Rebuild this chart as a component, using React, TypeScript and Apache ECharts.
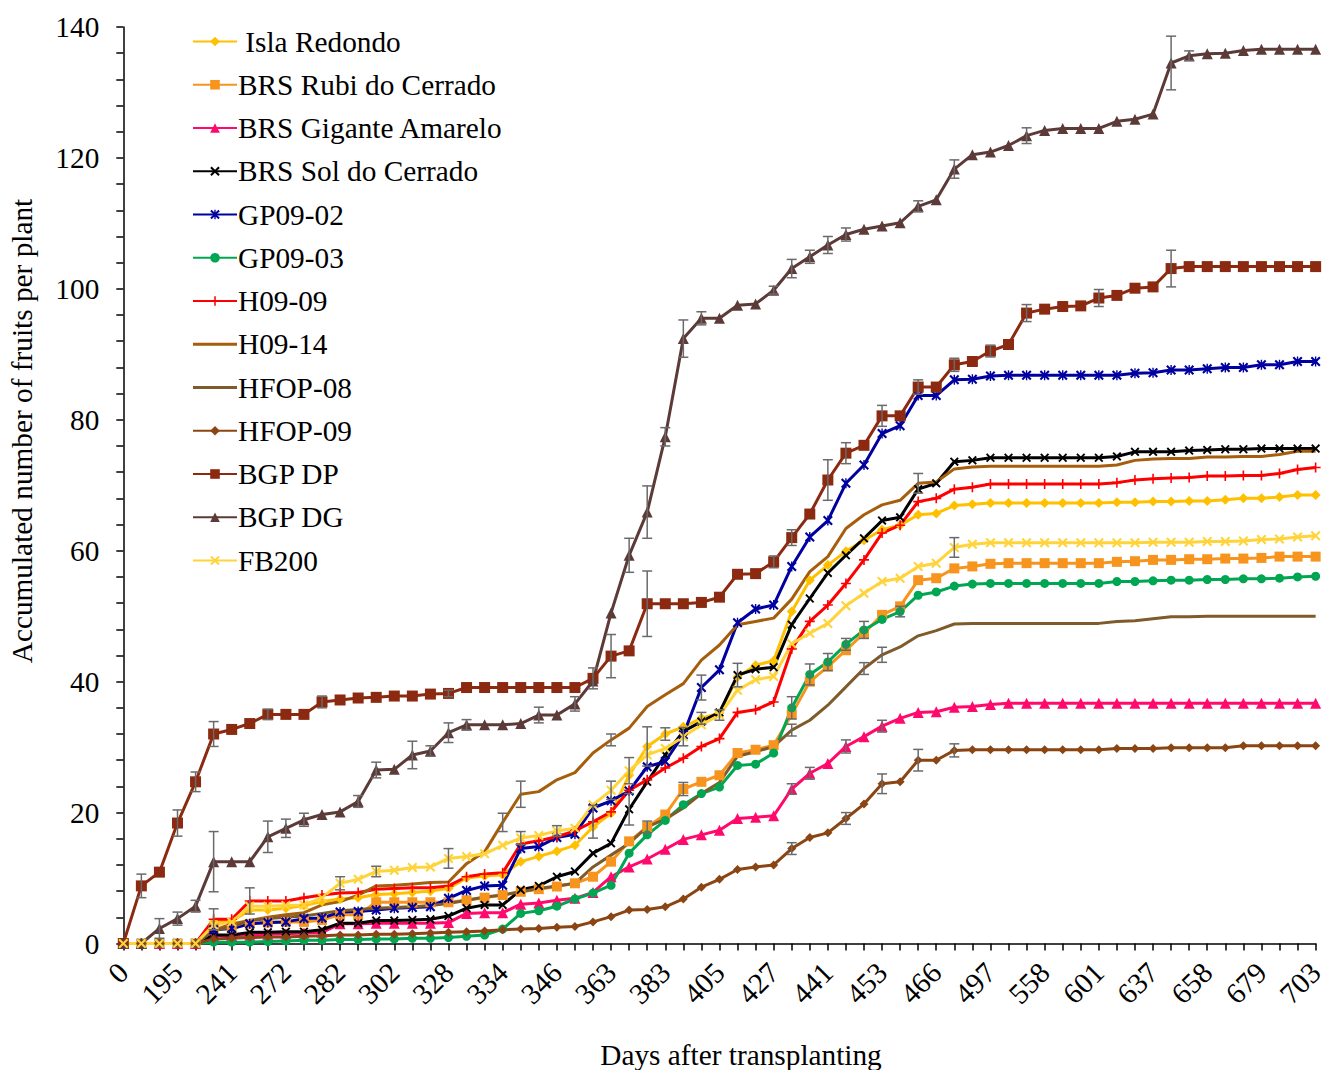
import React, { useEffect, useRef } from 'react';
import * as echarts from 'echarts';

const FONT = "'Liberation Serif', 'Times New Roman', Times, serif";
const FS = 29.3;

const days = ['0','160','181','195','205','220','241','251','262','272','275','279','282','290','297','302','312','320','328','330','332','334','338','342','346','352','358','363','369','376','383','390','398','405','412','420','427','432','437','441','445','449','453','457','462','466','476','487','497','515','537','558','572','587','601','613','625','637','644','651','658','665','672','679','687','695','703'];

const isla = [0,0,0,0,0,3.3,3.4,5.1,5.1,5.4,5.8,6.4,6.8,7.0,7.5,7.6,7.8,8.0,8.4,10.0,10.3,10.5,12.5,13.3,14.1,15.0,17.8,19.9,25.7,30.1,32.0,33.1,34.4,35.2,40.7,42.5,43.2,50.7,55.5,57.8,59.9,61.6,63.2,63.9,65.5,65.7,66.9,67.1,67.3,67.3,67.3,67.3,67.3,67.3,67.3,67.4,67.4,67.5,67.5,67.6,67.6,67.8,68.0,68.0,68.2,68.5,68.5];
const rubi = [0,0,0,0,0,2.3,2.3,3.0,3.2,3.3,3.3,3.6,4.4,4.4,6.3,6.3,6.3,6.3,6.3,6.6,7.0,7.4,7.9,8.3,8.7,9.2,10.2,12.5,15.6,17.8,19.7,23.6,24.7,25.7,29.1,29.6,30.3,35.0,40.0,42.3,44.8,47.4,50.2,51.5,55.5,55.8,57.3,57.6,58.0,58.1,58.1,58.1,58.1,58.1,58.1,58.3,58.4,58.6,58.6,58.7,58.7,58.8,58.8,58.9,59.1,59.1,59.1];
const gigante = [0,0,0,0,0,1.2,1.2,1.3,1.4,1.5,1.6,1.7,3.0,3.0,3.1,3.1,3.1,3.1,3.2,4.6,4.7,4.7,6.0,6.2,6.6,6.9,7.8,10.2,11.7,12.9,14.4,15.9,16.6,17.3,19.1,19.3,19.5,23.6,26.0,27.5,30.1,31.6,33.2,34.4,35.3,35.4,36.1,36.2,36.5,36.7,36.7,36.7,36.7,36.7,36.7,36.7,36.7,36.7,36.7,36.7,36.7,36.7,36.7,36.7,36.7,36.7,36.7];
const sol = [0,0,0,0,0,1.3,1.3,1.7,1.7,1.8,1.8,2.1,3.1,3.1,3.5,3.5,3.6,3.7,4.2,5.4,5.9,5.9,8.2,8.8,10.2,11.0,13.8,15.3,20.5,24.7,28.8,32.4,33.9,35.3,41.0,41.9,42.2,48.7,52.7,56.6,59.3,61.9,64.6,65.1,69.4,70.3,73.6,73.8,74.2,74.2,74.2,74.2,74.2,74.2,74.2,74.4,75.1,75.1,75.1,75.3,75.4,75.5,75.5,75.6,75.6,75.6,75.6];
const gp0902 = [0,0,0,0,0,2.1,2.3,3.0,3.2,3.3,3.8,3.9,4.8,4.9,5.1,5.4,5.5,5.6,6.9,8.1,8.8,8.9,14.5,14.8,16.2,16.7,20.7,21.8,23.3,27.0,27.8,31.9,39.1,41.8,49.0,51.1,51.7,57.6,62.1,64.6,70.3,73.1,77.9,79.1,83.7,83.7,86.1,86.2,86.7,86.8,86.8,86.8,86.8,86.8,86.8,86.8,87.1,87.2,87.6,87.6,87.8,88.0,88.0,88.4,88.4,88.9,88.9];
const gp0903 = [0,0,0,0,0,0.2,0.2,0.2,0.3,0.4,0.5,0.5,0.6,0.6,0.7,0.7,0.8,0.8,0.9,1.1,1.3,2.2,4.6,5.0,5.7,6.8,7.7,8.9,13.8,16.6,18.8,21.2,22.9,23.9,27.2,27.4,29.1,36.0,41.1,43.0,45.7,47.9,49.5,50.7,53.2,53.7,54.6,54.9,55.0,55.0,55.0,55.0,55.0,55.0,55.0,55.3,55.3,55.4,55.5,55.5,55.6,55.6,55.7,55.7,55.8,56.0,56.1];
const h0909 = [0,0,0,0,0,3.7,3.7,6.5,6.5,6.5,7.0,7.4,7.7,7.8,8.3,8.4,8.5,8.5,8.8,10.2,10.6,10.8,15.2,15.7,16.3,17.2,18.6,20.1,23.4,25.0,26.8,28.3,30.1,31.3,35.3,35.7,36.9,45.0,49.2,51.7,55.0,58.6,62.7,63.9,67.5,68.0,69.4,69.7,70.2,70.2,70.2,70.2,70.2,70.2,70.2,70.4,70.8,71.0,71.1,71.2,71.4,71.4,71.5,71.5,71.8,72.4,72.7];
const h0914 = [0,0,0,0,0,2.0,3.0,3.5,4.0,4.4,4.7,5.9,6.4,7.4,8.8,8.9,9.1,9.3,9.4,12.2,14.0,18.5,22.8,23.2,25.0,26.1,29.1,31.1,32.9,36.2,38.0,39.7,43.3,45.6,48.7,49.2,49.7,52.6,56.8,59.1,63.4,65.5,67.0,67.7,70.3,70.5,72.5,72.8,72.9,72.9,72.9,72.9,72.9,72.9,72.9,73.1,73.8,74.0,74.1,74.1,74.3,74.3,74.4,74.4,74.7,75.2,75.2];
const hfop08 = [0,0,0,0,0,2.0,2.5,3.5,3.8,4.0,4.2,4.6,5.0,5.2,5.4,5.5,5.6,5.8,6.1,6.6,7.1,7.4,7.9,8.4,8.8,9.2,11.7,13.5,15.3,17.8,19.0,20.7,22.9,24.6,28.6,29.3,30.1,32.6,34.1,36.4,39.2,42.0,44.1,45.3,47.0,47.8,48.8,48.9,48.9,48.9,48.9,48.9,48.9,48.9,48.9,49.2,49.3,49.6,49.9,49.9,50.0,50.0,50.0,50.0,50.0,50.0,50.0];
const hfop09 = [0,0,0,0,0,0.7,0.8,0.9,1.0,1.0,1.1,1.2,1.3,1.3,1.4,1.4,1.5,1.6,1.7,1.8,1.9,2.1,2.2,2.3,2.5,2.6,3.3,4.1,5.1,5.2,5.6,6.8,8.6,9.8,11.3,11.7,12.0,14.5,16.2,16.9,19.1,21.3,24.4,24.7,28.0,28.0,29.5,29.6,29.6,29.6,29.6,29.6,29.6,29.6,29.6,29.8,29.8,29.8,29.9,29.9,29.9,29.9,30.2,30.2,30.2,30.2,30.2];
const bgpdp = [0,8.8,10.9,18.4,24.7,32.0,32.7,33.6,35.0,35.0,35.0,36.9,37.2,37.5,37.6,37.8,37.8,38.1,38.2,39.1,39.1,39.1,39.1,39.1,39.1,39.1,40.5,43.9,44.7,51.9,51.9,51.9,52.1,52.9,56.4,56.5,58.3,62.0,65.6,70.8,74.9,76.1,80.6,80.6,85.0,85.0,88.4,88.9,90.5,91.5,96.3,96.9,97.3,97.4,98.6,99.0,100.1,100.3,103.1,103.4,103.4,103.4,103.4,103.4,103.4,103.4,103.4];
const bgpdg = [0,0,2.3,3.8,5.7,12.5,12.5,12.5,16.3,17.6,18.9,19.7,20.1,21.7,26.5,26.6,28.8,29.4,32.2,33.4,33.4,33.4,33.6,34.9,34.9,36.6,40.1,50.5,59.3,65.9,77.4,92.4,95.5,95.5,97.5,97.7,99.8,103.1,104.9,106.7,108.3,109.1,109.6,110.1,112.6,113.6,118.3,120.5,120.9,121.9,123.4,124.2,124.5,124.5,124.5,125.6,125.9,126.7,134.5,135.6,135.9,136.0,136.4,136.6,136.6,136.6,136.6];
const fb200 = [0,0,0,0,0,2.8,3.3,5.7,5.7,5.8,5.9,7.0,9.2,9.8,11.0,11.2,11.6,11.7,13.0,13.3,13.7,15.0,16.1,16.5,17.2,17.6,21.2,23.4,26.4,28.8,29.8,31.6,33.4,34.9,38.7,40.3,40.8,45.8,47.4,48.9,51.6,53.5,55.3,55.8,57.6,58.1,60.5,61.0,61.2,61.2,61.2,61.2,61.2,61.2,61.2,61.2,61.2,61.3,61.3,61.3,61.4,61.4,61.5,61.7,61.8,62.1,62.3];

const names = ['Isla Redondo','BRS Rubi do Cerrado','BRS Gigante Amarelo','BRS Sol do Cerrado','GP09-02','GP09-03','H09-09','H09-14','HFOP-08','HFOP-09','BGP DP','BGP DG','FB200'];
const values = [isla, rubi, gigante, sol, gp0902, gp0903, h0909, h0914, hfop08, hfop09, bgpdp, bgpdg, fb200];

// error bars: [series index, category index, half-length]
const errBars = [
  [10,1,1.8],[10,3,2.0],[10,4,1.5],[10,5,1.9],[10,8,0.8],[10,11,0.9],[10,18,0.5],[10,26,1.6],[10,27,3.3],[10,29,5.0],[10,36,0.9],[10,37,1.2],[10,39,3.1],[10,40,1.6],[10,42,1.6],[10,44,1.1],[10,46,1.0],[10,48,0.9],[10,50,1.3],[10,54,1.3],[10,58,2.8],
  [11,2,1.5],[11,3,1.0],[11,4,0.9],[11,5,4.6],[11,8,2.4],[11,9,1.4],[11,10,1.0],[11,13,0.9],[11,14,1.2],[11,16,2.1],[11,17,0.8],[11,18,1.5],[11,19,0.8],[11,23,1.2],[11,25,1.1],[11,28,2.6],[11,29,4.0],[11,30,1.4],[11,31,2.85],[11,32,1.0],[11,36,0.6],[11,37,1.4],[11,38,1.0],[11,39,1.3],[11,40,1.0],[11,44,0.85],[11,46,1.4],[11,50,1.2],[11,58,4.1],[11,59,0.75],
  [6,5,1.6],[6,7,2.0],[12,12,1.0],[12,14,0.8],[12,18,1.5],
  [7,21,1.4],[7,22,2.0],[12,22,1.0],[12,24,0.8],[6,26,2.5],[12,27,1.4],[7,27,0.9],
  [12,28,2.0],[3,28,2.4],[0,29,3.0],[1,29,0.9],[0,30,0.95],[12,31,1.4],[1,31,1.0],[4,32,1.9],[0,32,0.9],[12,33,0.8],[3,34,1.8],
  [5,37,1.7],[8,37,0.9],[9,37,0.9],[2,37,0.8],[5,38,1.6],[2,38,0.9],[5,39,1.3],[5,40,0.9],[2,40,1.0],[9,40,0.9],[5,41,1.3],[8,41,0.9],[8,42,1.15],[2,42,0.9],[9,42,1.5],[5,43,0.8],[9,44,1.65],[9,46,1.0],[7,44,1.5],[12,46,1.5],
];

const X_PATH = 'path://M0,1.5L1.5,0L5,3.5L8.5,0L10,1.5L6.5,5L10,8.5L8.5,10L5,6.5L1.5,10L0,8.5L3.5,5Z';
const PLUS_PATH = 'path://M4.2,0H5.8V4.2H10V5.8H5.8V10H4.2V5.8H0V4.2H4.2Z';
const AST_PATH = 'path://M0,1.5L1.5,0L5,3.5L8.5,0L10,1.5L6.5,5L10,8.5L8.5,10L5,6.5L1.5,10L0,8.5L3.5,5Z M4.3,0H5.7V10H4.3Z';
const LINE_ICON = 'path://M0,0H0.05V0.05H0Z M0,4.5H44V7.5H0Z M43.95,11.95H44V12H43.95Z';

const styles = [
  { color: '#FFC000', symbol: 'diamond', size: 10 },
  { color: '#F7941D', symbol: 'rect', size: 10 },
  { color: '#FF0A6C', symbol: 'triangle', size: 11 },
  { color: '#000000', symbol: X_PATH, size: 9 },
  { color: '#0000A0', symbol: AST_PATH, size: 10 },
  { color: '#00A651', symbol: 'circle', size: 9 },
  { color: '#FF0000', symbol: PLUS_PATH, size: 10 },
  { color: '#A65E0C', symbol: 'none', size: 0 },
  { color: '#7F5A2A', symbol: 'none', size: 0 },
  { color: '#8B4513', symbol: 'diamond', size: 9 },
  { color: '#8B2A10', symbol: 'rect', size: 11 },
  { color: '#5C3A38', symbol: 'triangle', size: 11 },
  { color: '#FFD43B', symbol: X_PATH, size: 10 },
];

export default function App() {
  const ref = useRef<HTMLDivElement>(null);
  useEffect(() => {
    if (!ref.current) return;
    const chart = echarts.init(ref.current, null, { renderer: 'svg' });
    const lineSeries = names.map((n, k) => ({
      type: 'line',
      name: n,
      data: values[k],
      symbol: styles[k].symbol,
      symbolSize: styles[k].size,
      showSymbol: styles[k].symbol !== 'none',
      lineStyle: { color: styles[k].color, width: 3 },
      itemStyle: { color: styles[k].color },
      z: 2,
    }));
    const errSeries = {
      type: 'custom',
      name: 'errors',
      z: 3,
      silent: true,
      data: errBars.map(([s, i, e]) => [i, values[s][i], e]),
      encode: { x: 0, y: 1 },
      renderItem: (params: any, api: any) => {
        const i = api.value(0);
        const v = api.value(1);
        const e = api.value(2);
        const top = api.coord([i, v + e]);
        const bot = api.coord([i, Math.max(0, v - e)]);
        const hw = 5;
        const st = { stroke: '#6A6A6A', lineWidth: 1.5 };
        return {
          type: 'group',
          children: [
            { type: 'line', shape: { x1: top[0], y1: top[1], x2: bot[0], y2: bot[1] }, style: st },
            { type: 'line', shape: { x1: top[0] - hw, y1: top[1], x2: top[0] + hw, y2: top[1] }, style: st },
            { type: 'line', shape: { x1: bot[0] - hw, y1: bot[1], x2: bot[0] + hw, y2: bot[1] }, style: st },
          ],
        };
      },
    };
    chart.setOption({
      animation: false,
      backgroundColor: '#ffffff',
      grid: { left: 123.3, right: 6.8, top: 27, bottom: 126.5, containLabel: false },
      legend: {
        orient: 'vertical',
        left: 192,
        top: 27,
        padding: 0,
        itemWidth: 44,
        itemHeight: 12,
        itemGap: 14.25,
        data: names.map((n, k) => (styles[k].symbol === 'none' ? { name: n, icon: LINE_ICON } : { name: n })),
        formatter: (n: string) => (n === 'Isla Redondo' ? '\u00a0Isla Redondo' : n),
        textStyle: { fontFamily: FONT, fontSize: FS, color: '#000', padding: [0, 0, 0, -4] },
      },
      xAxis: {
        type: 'category',
        data: days,
        boundaryGap: false,
        axisLine: { lineStyle: { color: '#000', width: 1.5 } },
        axisTick: { interval: 0, length: 7, lineStyle: { color: '#000', width: 1.5 } },
        axisLabel: { interval: 2, rotate: 45, fontFamily: FONT, fontSize: FS, color: '#000', margin: 24 },
        splitLine: { show: false },
      },
      yAxis: {
        type: 'value',
        min: 0,
        max: 140,
        interval: 20,
        axisLine: { show: true, lineStyle: { color: '#000', width: 1.5 } },
        axisTick: { show: true, length: 7, lineStyle: { color: '#000', width: 1.5 } },
        minorTick: { show: true, splitNumber: 5, length: 7, lineStyle: { color: '#000', width: 1.5 } },
        axisLabel: { fontFamily: FONT, fontSize: FS, color: '#000', margin: 24 },
        splitLine: { show: false },
      },
      graphic: [
        {
          type: 'text',
          x: 22,
          y: 431,
          rotation: Math.PI / 2,
          style: { text: 'Accumulated number of fruits per plant', fontFamily: FONT, fontSize: FS, fill: '#000', textAlign: 'center', textVerticalAlign: 'middle' },
        },
        {
          type: 'text',
          x: 741,
          y: 1055,
          style: { text: 'Days after transplanting', fontFamily: FONT, fontSize: FS, fill: '#000', textAlign: 'center', textVerticalAlign: 'middle' },
        },
      ],
      series: [...lineSeries, errSeries],
    });
    return () => chart.dispose();
  }, []);
  return <div ref={ref} style={{ position: 'absolute', left: 0, top: 0, width: 1328, height: 1070 }} />;
}
